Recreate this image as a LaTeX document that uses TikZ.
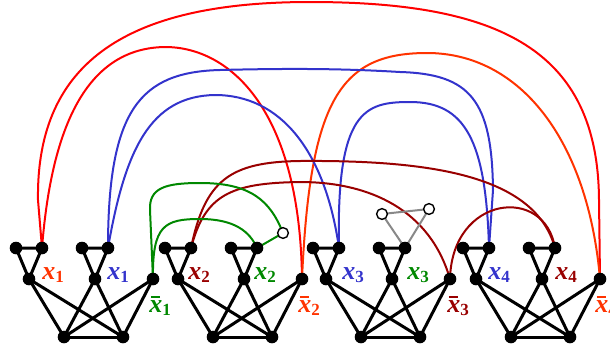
\documentclass[tikz,border=0pt]{standalone}
\usepackage{fontspec}
\setmainfont{Liberation Serif}
\usetikzlibrary{backgrounds}
\definecolor{cred}{RGB}{255,0,0}
\definecolor{corange}{RGB}{255,51,0}
\definecolor{cblue}{RGB}{51,51,204}
\definecolor{cgreen}{RGB}{0,136,0}
\definecolor{cdred}{RGB}{153,0,0}
\definecolor{cgray}{RGB}{136,136,136}
\newcommand{\litx}[1]{{\bfseries\itshape x}\raisebox{-0.15em}{\fontsize{8.5}{9}\selectfont\bfseries #1}}
\newcommand{\nlitx}[1]{\makebox[0pt][l]{\hspace{0.06em}\rule[0.55em]{0.36em}{0.07em}}\litx{#1}}
\begin{document}
\begin{tikzpicture}[x=0.5pt,y=-0.5pt,
  bdot/.style={circle,fill=black,inner sep=0pt,minimum size=6.3pt},
  wdot/.style={circle,draw=black,fill=white,line width=0.7pt,inner sep=0pt,minimum size=5.4pt},
  gedge/.style={line width=1.5pt,black},
  ccurve/.style={line width=1pt},
  lab/.style={anchor=base west,inner sep=0pt,font=\fontsize{13}{15}\selectfont}]
\useasboundingbox (0,0) rectangle (610,354);

% gadget nodes
\foreach \i/\x in {1/16,2/165,3/313,4/463}{
  \node[bdot] (a1g\i) at (\x,248) {};
  \node[bdot] (a2g\i) at (\x+26,248) {};
  \node[bdot] (a3g\i) at (\x+13,279) {};
  \node[bdot] (b1g\i) at (\x+66,248) {};
  \node[bdot] (b2g\i) at (\x+92,248) {};
  \node[bdot] (b3g\i) at (\x+79,279) {};
  \node[bdot] (cg\i) at (\x+137,279) {};
  \node[bdot] (d1g\i) at (\x+48,337) {};
  \node[bdot] (d2g\i) at (\x+107,337) {};
}
% white nodes
\node[wdot] (w1) at (283,233) {};
\node[wdot] (w2) at (382,214) {};
\node[wdot] (w3) at (429,209) {};

\begin{pgfonlayer}{background}
% red / orange clause
\draw[ccurve,cred] (a2g1.center) -- (38,200) .. controls (36,60) and (130,2) .. (310,2)
   .. controls (500,2) and (598,50) .. (599,200) -- (cg4.center);
\draw[ccurve,cred] (a2g1.center) .. controls (52,120) and (90,48) .. (165,47)
   .. controls (230,47) and (300,110) .. (cg2.center);
\draw[ccurve,corange] (cg2.center) .. controls (310,100) and (340,53) .. (427,53)
   .. controls (520,53) and (588,140) .. (cg4.center);
% blue clause
\draw[ccurve,cblue] (b2g1.center) .. controls (108,110) and (140,72) .. (220,70)
   .. controls (300,68) and (350,69) .. (400,72)
   .. controls (470,74) and (492,100) .. (493,190) -- (a2g4.center);
\draw[ccurve,cblue] (b2g1.center) .. controls (125,150) and (150,96) .. (215,95)
   .. controls (280,95) and (325,150) .. (a2g3.center);
\draw[ccurve,cblue] (a2g3.center) .. controls (336,110) and (365,102) .. (410,102)
   .. controls (465,102) and (486,140) .. (a2g4.center);
% dark red clause
\draw[ccurve,cdred] (a2g2.center) .. controls (205,180) and (230,162) .. (300,161)
   .. controls (430,160) and (535,175) .. (b2g4.center);
\draw[ccurve,cdred] (a2g2.center) .. controls (205,195) and (230,183) .. (300,182)
   .. controls (370,182) and (430,210) .. (cg3.center);
\draw[ccurve,cdred] (cg3.center) .. controls (452,195) and (545,185) .. (b2g4.center);
% green clause
\draw[ccurve,cgreen] (cg1.center) -- (150,210) .. controls (149,188) and (165,183) .. (200,183)
   .. controls (250,183) and (270,200) .. (w1.center);
\draw[ccurve,cgreen] (cg1.center) .. controls (152,225) and (165,219) .. (200,219)
   .. controls (235,219) and (250,232) .. (b2g2.center);
\draw[ccurve,cgreen] (b2g2.center) -- (w1.center);
% gray
\draw[ccurve,cgray] (b2g3.center) -- (w2.center) -- (w3.center) -- (b2g3.center);
% gadget edges
\foreach \i in {1,...,4}{
  \draw[gedge] (a1g\i.center) -- (a2g\i.center) -- (a3g\i.center) -- cycle;
  \draw[gedge] (b1g\i.center) -- (b2g\i.center) -- (b3g\i.center) -- cycle;
  \draw[gedge] (d1g\i.center) -- (d2g\i.center);
  \draw[gedge] (a3g\i.center) -- (d1g\i.center);
  \draw[gedge] (a3g\i.center) -- (d2g\i.center);
  \draw[gedge] (b3g\i.center) -- (d1g\i.center);
  \draw[gedge] (b3g\i.center) -- (d2g\i.center);
  \draw[gedge] (cg\i.center) -- (d1g\i.center);
  \draw[gedge] (cg\i.center) -- (d2g\i.center);
}
\end{pgfonlayer}

% labels
\node[lab,text=corange] (l1a) at (42,279) {\litx{1}};
\node[lab,text=cblue]   (l1b) at (107,279) {\litx{1}};
\node[lab,text=cgreen]  (l1c) at (149,312) {\nlitx{1}};
\node[lab,text=cdred]   (l2a) at (188,279) {\litx{2}};
\node[lab,text=cgreen]  (l2b) at (254,279) {\litx{2}};
\node[lab,text=corange] (l2c) at (298,312) {\nlitx{2}};
\node[lab,text=cblue]   (l3a) at (342,279) {\litx{3}};
\node[lab,text=cgreen]  (l3b) at (407,279) {\litx{3}};
\node[lab,text=cdred]   (l3c) at (447,312) {\nlitx{3}};
\node[lab,text=cblue]   (l4a) at (488,279) {\litx{4}};
\node[lab,text=cdred]   (l4b) at (555,279) {\litx{4}};
\node[lab,text=corange] (l4c) at (595,312) {\nlitx{4}};
\end{tikzpicture}
\end{document}
